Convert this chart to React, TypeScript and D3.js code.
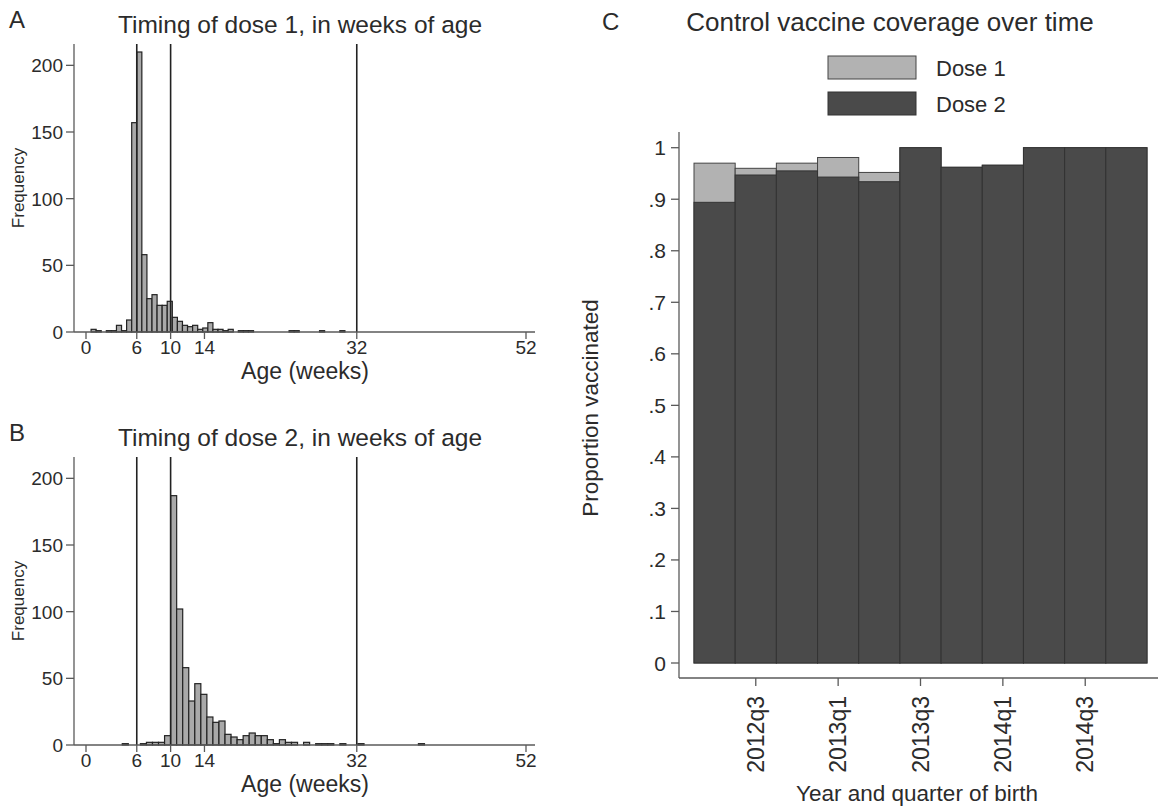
import * as d3 from 'd3';
import React from 'react';

// Histogram A: age at dose 1 (weeks), 50 bins of 0.6 weeks from 0.6
const dose1Start = 0.6;
const dose1BinWidth = 0.6;
const dose1Counts = [
    2, 1, 0, 1, 1, 5, 1, 9, 157, 210,
    58, 25, 28, 20, 20, 23, 11, 8, 5, 4,
    5, 2, 3, 7, 2, 2, 1, 2, 0, 1,
    1, 1, 0, 0, 0, 0, 0, 0, 0, 1,
    1, 0, 0, 0, 0, 1, 0, 0, 0, 1,
];

// Histogram B: age at dose 2 (weeks), 50 bins of 5 days from day 30
const dose2Start = 30 / 7;
const dose2BinWidth = 5 / 7;
const dose2Counts = [
    1, 0, 0, 1, 2, 2, 2, 7, 187, 102,
    58, 33, 46, 38, 21, 17, 18, 8, 6, 4,
    7, 9, 7, 7, 4, 1, 4, 2, 2, 0,
    2, 0, 1, 1, 1, 0, 1, 0, 0, 1,
    0, 0, 0, 0, 0, 0, 0, 0, 0, 1,
];

const refLines = [6, 10, 32];
const ageTicks = [0, 6, 10, 14, 32, 52];
const freqTicks = [0, 50, 100, 150, 200];

// Panel C: coverage by quarter of birth
const quarters = ['2012q2', '2012q3', '2012q4', '2013q1', '2013q2', '2013q3',
    '2013q4', '2014q1', '2014q2', '2014q3', '2014q4'];
const quarterTicks = ['2012q3', '2013q1', '2013q3', '2014q1', '2014q3'];
const dose1Coverage = [0.970, 0.960, 0.970, 0.981, 0.952, 1, 0.962, 0.966, 1, 1, 1];
const dose2Coverage = [0.894, 0.947, 0.955, 0.943, 0.934, 1, 0.962, 0.966, 1, 1, 1];
const propTicks = [0, 0.1, 0.2, 0.3, 0.4, 0.5, 0.6, 0.7, 0.8, 0.9, 1];

const FONT = '"Liberation Sans", Arial, sans-serif';
const TXT = '#2b2b2b';
const AXIS = '#5a5a5a';

function Histogram({ dy, label, title, counts, start, binWidth }) {
    const plotTop = 44 + dy;
    const baseline = 332 + dy;

    const x = d3.scaleLinear().domain([0, 52]).range([86, 526]);
    const y = d3.scaleLinear().domain([0, 216]).range([baseline, plotTop]);

    const bins = counts
        .map((c, i) => ({ x0: start + i * binWidth, x1: start + (i + 1) * binWidth, c }))
        .filter((b) => b.c > 0);

    return (
        <g fontFamily={FONT} fill={TXT}>
            <text x={9} y={28 + dy} fontSize={24}>{label}</text>
            <text x={300} y={33 + dy} fontSize={24.5} textAnchor="middle">{title}</text>

            {/* bars */}
            {bins.map((b, i) => (
                <rect key={i}
                    x={x(b.x0)} y={y(b.c)}
                    width={x(b.x1) - x(b.x0)} height={baseline - y(b.c)}
                    fill="#a9a9a9" stroke="#222" strokeWidth={1.2} />
            ))}

            {/* reference lines */}
            {refLines.map((w) => (
                <line key={w} x1={x(w)} x2={x(w)} y1={plotTop} y2={baseline}
                    stroke="#222" strokeWidth={1.6} />
            ))}

            {/* y axis */}
            <line x1={74} x2={74} y1={plotTop} y2={baseline} stroke={AXIS} strokeWidth={1.3} />
            {freqTicks.map((t) => (
                <g key={t}>
                    <line x1={66} x2={74} y1={y(t)} y2={y(t)} stroke={AXIS} strokeWidth={1.3} />
                    <text x={63} y={y(t) + 7} fontSize={19} textAnchor="end">{t}</text>
                </g>
            ))}
            <text transform={`translate(24,${(plotTop + baseline) / 2}) rotate(-90)`}
                fontSize={17} textAnchor="middle">Frequency</text>

            {/* x axis */}
            <line x1={74} x2={535} y1={baseline} y2={baseline} stroke={AXIS} strokeWidth={1.3} />
            {ageTicks.map((t) => (
                <g key={t}>
                    <line x1={x(t)} x2={x(t)} y1={baseline} y2={baseline + 7} stroke={AXIS} strokeWidth={1.3} />
                    <text x={x(t)} y={baseline + 22} fontSize={19} textAnchor="middle">{t}</text>
                </g>
            ))}
            <text x={305} y={baseline + 47} fontSize={23} textAnchor="middle">Age (weeks)</text>
        </g>
    );
}

function CoverageChart() {
    const x = d3.scaleBand().domain(quarters).range([694, 1147]).padding(0);
    const y = d3.scaleLinear().domain([0, 1]).range([663, 147.7]);
    const fmt = (v) => (v === 0 ? '0' : v === 1 ? '1' : d3.format('.1f')(v).replace(/^0/, ''));

    return (
        <g fontFamily={FONT} fill={TXT}>
            <text x={602} y={30} fontSize={24}>C</text>
            <text x={890} y={31} fontSize={26} textAnchor="middle">Control vaccine coverage over time</text>

            {/* legend */}
            <rect x={828} y={56} width={88} height={23} fill="#b2b2b2" stroke="#444" strokeWidth={1} />
            <text x={936} y={76} fontSize={22}>Dose 1</text>
            <rect x={828} y={92} width={88} height={23} fill="#4a4a4a" stroke="#333" strokeWidth={1} />
            <text x={936} y={112} fontSize={22}>Dose 2</text>

            {/* bars: dose 1 behind, dose 2 overlaid */}
            {quarters.map((q, i) => (
                <rect key={`d1-${q}`} x={x(q)} y={y(dose1Coverage[i])}
                    width={x.bandwidth()} height={y(0) - y(dose1Coverage[i])}
                    fill="#b2b2b2" stroke="#444" strokeWidth={1} />
            ))}
            {quarters.map((q, i) => (
                <rect key={`d2-${q}`} x={x(q)} y={y(dose2Coverage[i])}
                    width={x.bandwidth()} height={y(0) - y(dose2Coverage[i])}
                    fill="#4a4a4a" stroke="#333" strokeWidth={1} />
            ))}

            {/* y axis */}
            <line x1={679} x2={679} y1={132} y2={678} stroke={AXIS} strokeWidth={1.3} />
            {propTicks.map((t) => (
                <g key={t}>
                    <line x1={671} x2={679} y1={y(t)} y2={y(t)} stroke={AXIS} strokeWidth={1.3} />
                    <text x={666} y={y(t) + 7.5} fontSize={21} textAnchor="end">{fmt(t)}</text>
                </g>
            ))}
            <text transform="translate(598,408) rotate(-90)" fontSize={22.5} textAnchor="middle">
                Proportion vaccinated
            </text>

            {/* x axis */}
            <line x1={679} x2={1158} y1={678} y2={678} stroke={AXIS} strokeWidth={1.3} />
            {quarterTicks.map((q) => {
                const cx = x(q) + x.bandwidth() / 2;
                return (
                    <g key={q}>
                        <line x1={cx} x2={cx} y1={678} y2={686} stroke={AXIS} strokeWidth={1.3} />
                        <text transform={`translate(${cx + 8},696) rotate(-90)`} fontSize={23}
                            textAnchor="end">{q}</text>
                    </g>
                );
            })}
            <text x={917} y={801} fontSize={22.5} textAnchor="middle">Year and quarter of birth</text>
        </g>
    );
}

export default function App() {
    return (
        <svg width={1158} height={808}
            style={{ position: 'absolute', left: 0, top: 0, background: 'white' }}>
            <rect width={1158} height={808} fill="white" />
            <Histogram dy={0} label="A" title="Timing of dose 1, in weeks of age"
                counts={dose1Counts} start={dose1Start} binWidth={dose1BinWidth} />
            <Histogram dy={413} label="B" title="Timing of dose 2, in weeks of age"
                counts={dose2Counts} start={dose2Start} binWidth={dose2BinWidth} />
            <CoverageChart />
        </svg>
    );
}
